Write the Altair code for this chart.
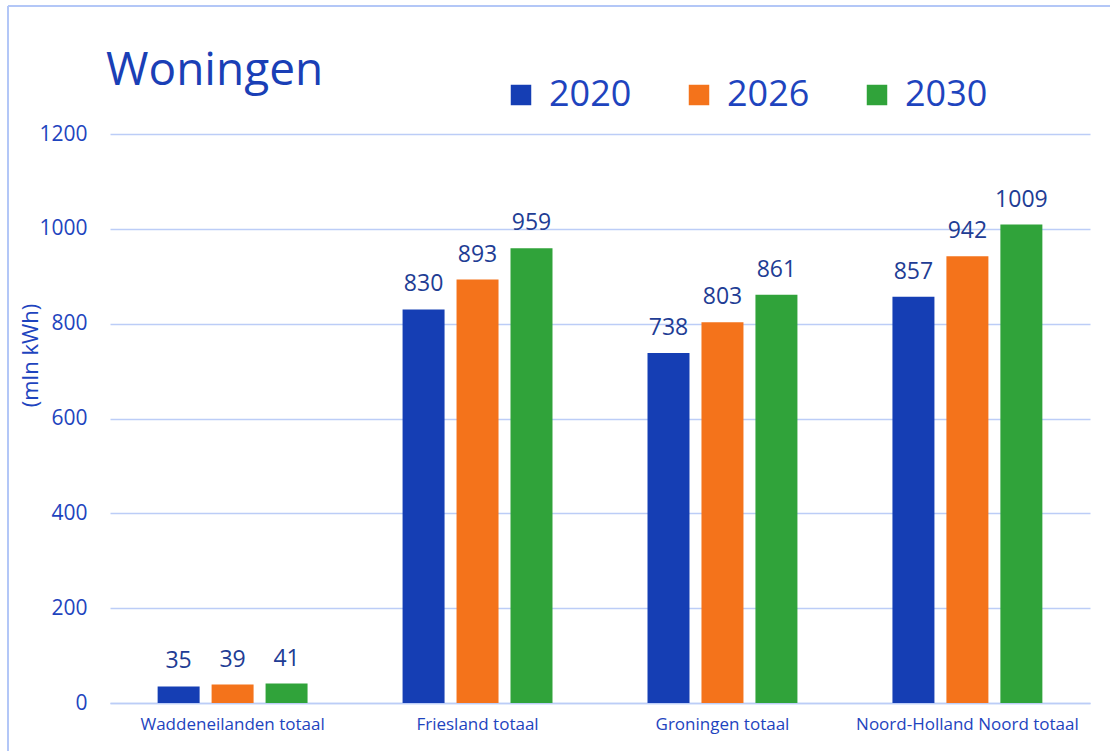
import altair as alt
import pandas as pd

regions = ["Waddeneilanden totaal", "Friesland totaal", "Groningen totaal", "Noord-Holland Noord totaal"]
years = ["2020", "2026", "2030"]
v2020 = [35, 830, 738, 857]
v2026 = [39, 893, 803, 942]
v2030 = [41, 959, 861, 1009]
colors = ["#153EB4", "#F4731B", "#30A33A"]
y_ticks = [0, 200, 400, 600, 800, 1000, 1200]
chart_title = "Woningen"

rows = []
for i, r in enumerate(regions):
    for y, vals in zip(years, [v2020, v2026, v2030]):
        rows.append({"region": r, "year": y, "value": vals[i]})
df = pd.DataFrame(rows)

FONT = "Open Sans"
BLUE_TXT = "#1E44BE"
GRID = "#BCCDF7"

x_enc = alt.X("region:N", sort=regions, title=None,
              scale=alt.Scale(paddingInner=0.339, paddingOuter=0.17),
              axis=alt.Axis(labelAngle=0, labelFontSize=17, labelColor=BLUE_TXT, labelFont=FONT,
                            labelLimit=0, domain=True, domainColor=GRID, domainWidth=1.5, ticks=False,
                            labelPadding=13, grid=False))
xo_enc = alt.XOffset("year:N", sort=years,
                     scale=alt.Scale(paddingInner=0.222, paddingOuter=0.111))
y_enc = alt.Y("value:Q", scale=alt.Scale(domain=[0, 1200], nice=False),
              axis=alt.Axis(values=y_ticks, format="d", title="(mln kWh)", titleFontSize=22, titleFont=FONT,
                            titleFontWeight="normal", titleColor=BLUE_TXT, titleAngle=-90,
                            titleX=-80, titleY=221, titleBaseline="middle", titleAlign="center",
                            labelFontSize=21, labelColor=BLUE_TXT, labelFont=FONT,
                            labelPadding=23, domain=False, ticks=False,
                            grid=True, gridColor=GRID, gridWidth=1.5))

base = alt.Chart(df)

bars = base.mark_bar().encode(
    x=x_enc,
    xOffset=xo_enc,
    y=y_enc,
    color=alt.Color("year:N", sort=years, scale=alt.Scale(domain=years, range=colors),
                    legend=alt.Legend(title=None, orient="none", direction="horizontal",
                                      legendX=393, legendY=-57, symbolType="square",
                                      symbolSize=420, symbolStrokeWidth=0, labelFontSize=36,
                                      labelFont=FONT, labelColor=BLUE_TXT, labelOffset=10,
                                      columnPadding=49)),
)

labels = base.mark_text(font=FONT, fontSize=23, color="#213C94", baseline="alphabetic", dy=-18).encode(
    x=alt.X("region:N", sort=regions),
    xOffset=alt.XOffset("year:N", sort=years),
    y="value:Q",
    text="value:Q",
)

frame_df = pd.DataFrame({"a": [0], "t": [chart_title]})
top_line = alt.Chart(frame_df).mark_rule(color="#B3C7F7", strokeWidth=2).encode(
    x=alt.value(-102), x2=alt.value(1010), y=alt.value(-128))
left_line = alt.Chart(frame_df).mark_rule(color="#B3C7F7", strokeWidth=2).encode(
    x=alt.value(-102), y=alt.value(-128), y2=alt.value(700))
title_txt = alt.Chart(frame_df).mark_text(font=FONT, fontSize=46, color="#1A3FB6",
                                           align="left", baseline="alphabetic").encode(
    x=alt.value(-4), y=alt.value(-49), text="t:N")

chart = alt.layer(bars, labels, top_line, left_line, title_txt).properties(
    width=980, height=569,
    background="white",
    autosize=alt.AutoSizeParams(type="none"),
    padding={"left": 110, "top": 134, "right": 20, "bottom": 48},
).configure_view(strokeWidth=0)

chart.save("out.html", embed_options={"renderer": "svg", "actions": False})
